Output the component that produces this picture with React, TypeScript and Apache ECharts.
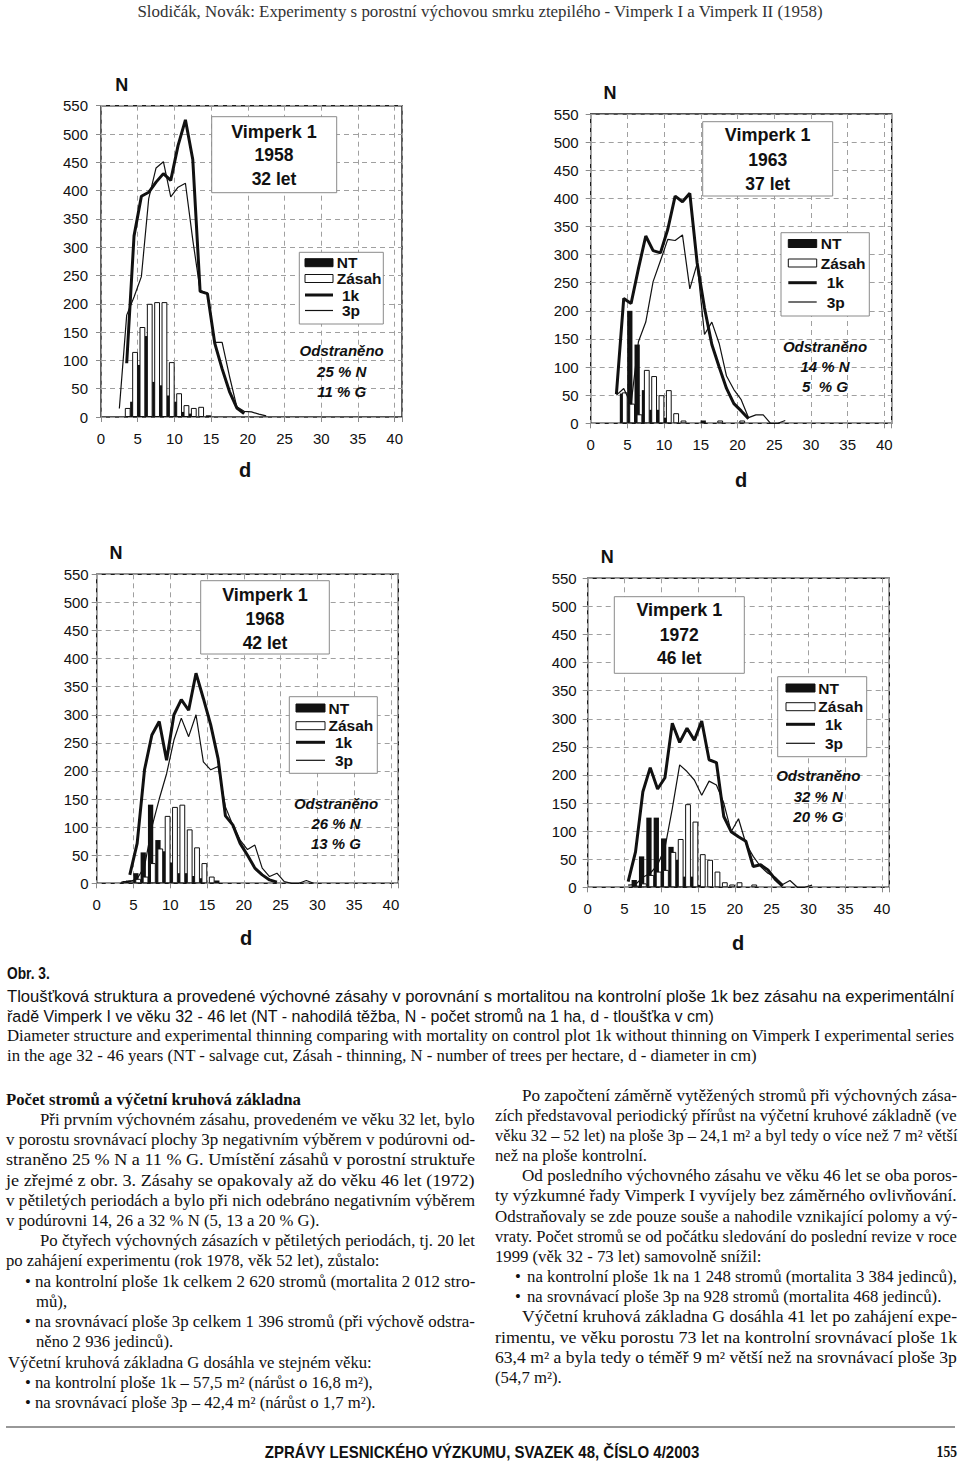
import React, { useEffect, useRef } from "react";
import * as echarts from "echarts";

const SANS = "Liberation Sans";
const SERIF = "Liberation Serif";
const INK = "#111";

// ---------------- DATA (N per ha by 1-cm diameter class d) ----------------
const dTicks = [0, 5, 10, 15, 20, 25, 30, 35, 40];
const nTicks = [0, 50, 100, 150, 200, 250, 300, 350, 400, 450, 500, 550];
const legendNames = ["NT", "Zásah", "1k", "3p"];

// Vimperk 1 – 1958, 32 let
const nt1958From = 4;
const nt1958 = [27, 92, 143, 62, 56, 38, 27, 9, 6];
const zasah1958From = 3;
const zasah1958 = [16, 115, 159, 200, 203, 203, 97, 42, 21, 16, 18, 3];
const k1958From = 3;
const k1958 = [95, 320, 390, 397, 415, 430, 418, 480, 525, 455, 222, 218, 130, 85, 45, 16, 6];
const p1958From = 2;
const p1958 = [15, 180, 212, 248, 386, 440, 451, 389, 406, 413, 313, 224, 218, 132, 132, 72, 18, 10, 9, 5, 2];

// Vimperk 1 – 1963, 37 let
const nt1963From = 4;
const nt1963 = [53, 200, 140, 59, 24, 24, 10, 0, 0, 0, 0, 5];
const zasah1963From = 4;
const zasah1963 = [55, 35, 16, 95, 84, 50, 59, 18, 5, 0, 0, 0, 0, 5, 0, 0, 5];
const k1963From = 3;
const k1963 = [52, 222, 213, 275, 333, 307, 303, 345, 404, 394, 409, 285, 205, 140, 100, 62, 35, 22, 8];
const p1963From = 3;
const p1963 = [50, 62, 34, 145, 180, 252, 289, 327, 325, 335, 239, 284, 158, 180, 142, 84, 60, 42, 10, 15, 15, 0, 0, 5];

// Vimperk 1 – 1968, 42 let
const nt1968From = 4;
const nt1968 = [5, 18, 55, 140, 77, 57, 37, 18, 18, 13, 9, 0, 5];
const zasah1968From = 3;
const zasah1968 = [3, 5, 8, 12, 36, 62, 120, 136, 140, 96, 64, 36, 12];
const k1968From = 4;
const k1968 = [15, 71, 202, 264, 288, 219, 300, 327, 308, 374, 329, 282, 222, 120, 104, 71, 50, 27, 15, 6, 2];
const p1968From = 3;
const p1968 = [3, 3, 8, 30, 100, 150, 195, 255, 294, 261, 300, 216, 202, 208, 136, 104, 77, 60, 68, 27, 12, 18, 3, 0, 0, 5, 0];

// Vimperk 1 – 1972, 46 let
const nt1972From = 6;
const nt1972 = [13, 55, 124, 124, 87, 72, 49, 19, 19, 4];
const zasah1972From = 6;
const zasah1972 = [3, 7, 22, 28, 31, 63, 86, 148, 117, 59, 49, 28, 9, 5, 9, 0, 5];
const k1972From = 5;
const k1972 = [10, 63, 170, 213, 175, 195, 292, 258, 283, 262, 296, 227, 222, 126, 99, 90, 82, 37, 40, 31, 14, 2];
const p1972From = 5;
const p1972 = [4, 5, 18, 25, 40, 70, 140, 218, 206, 191, 164, 189, 182, 150, 99, 122, 78, 55, 37, 25, 18, 5, 12, 0, 0, 4];

const panelTitles = [
  ["Vimperk 1", "1958", "32 let"],
  ["Vimperk 1", "1963", "37 let"],
  ["Vimperk 1", "1968", "42 let"],
  ["Vimperk 1", "1972", "46 let"],
];
const panelRemoved = [
  ["25 % N", "11 % G"],
  ["14 % N", "5  % G"],
  ["26 % N", "13 % G"],
  ["32 % N", "20 % G"],
];

const panelData = [
  { nt: nt1958, ntFrom: nt1958From, za: zasah1958, zaFrom: zasah1958From, k: k1958, kFrom: k1958From, p: p1958, pFrom: p1958From },
  { nt: nt1963, ntFrom: nt1963From, za: zasah1963, zaFrom: zasah1963From, k: k1963, kFrom: k1963From, p: p1963, pFrom: p1963From },
  { nt: nt1968, ntFrom: nt1968From, za: zasah1968, zaFrom: zasah1968From, k: k1968, kFrom: k1968From, p: p1968, pFrom: p1968From },
  { nt: nt1972, ntFrom: nt1972From, za: zasah1972, zaFrom: zasah1972From, k: k1972, kFrom: k1972From, p: p1972, pFrom: p1972From },
];

// ---------------- TEXT ----------------
const headerText = "Slodičák, Novák: Experimenty s porostní výchovou smrku ztepilého - Vimperk I a Vimperk II (1958)";
const captionLabel = "Obr. 3.";
const captionCz = [
  "Tloušťková struktura a provedené výchovné zásahy v porovnání s mortalitou na kontrolní ploše 1k bez zásahu na experimentální",
  "řadě Vimperk I ve věku 32 - 46 let (NT - nahodilá těžba, N - počet stromů na 1 ha, d - tloušťka v cm)",
];
const captionEn = [
  "Diameter structure and experimental thinning comparing with mortality on control plot 1k without thinning on Vimperk I experimental series",
  "in the age 32 - 46 years (NT - salvage cut, Zásah - thinning, N - number of trees per hectare, d - diameter in cm)",
];
// kind: h=heading, i=indented first line, n=normal, b=bullet, s=continuation of bullet, v=slightly indented ; j=justified
const leftCol: [string, string, boolean][] = [
  ["h", "Počet stromů a výčetní kruhová základna", false],
  ["i", "Při prvním výchovném zásahu, provedeném ve věku 32 let, bylo", true],
  ["n", "v porostu srovnávací plochy 3p negativním výběrem v podúrovni od-", true],
  ["n", "straněno 25 % N a 11 % G. Umístění zásahů v porostní struktuře", true],
  ["n", "je zřejmé z obr. 3. Zásahy se opakovaly až do věku 46 let (1972)", true],
  ["n", "v pětiletých periodách a bylo při nich odebráno negativním výběrem", true],
  ["n", "v podúrovni 14, 26 a 32 % N (5, 13 a 20 % G).", false],
  ["i", "Po čtyřech výchovných zásazích v pětiletých periodách, tj. 20 let", true],
  ["n", "po zahájení experimentu (rok 1978, věk 52 let), zůstalo:", false],
  ["b", "na kontrolní ploše 1k celkem 2 620 stromů (mortalita 2 012 stro-", true],
  ["s", "mů),", false],
  ["b", "na srovnávací ploše 3p celkem 1 396 stromů (při výchově odstra-", true],
  ["s", "něno 2 936 jedinců).", false],
  ["v", "Výčetní kruhová základna G dosáhla ve stejném věku:", false],
  ["b", "na kontrolní ploše 1k – 57,5 m² (nárůst o 16,8 m²),", false],
  ["b", "na srovnávací ploše 3p – 42,4 m² (nárůst o 1,7 m²).", false],
];
const rightCol: [string, string, boolean][] = [
  ["i", "Po započtení záměrně vytěžených stromů při výchovných zása-", true],
  ["n", "zích představoval periodický přírůst na výčetní kruhové základně (ve", true],
  ["n", "věku 32 – 52 let) na ploše 3p – 24,1 m² a byl tedy o více než 7 m² větší", true],
  ["n", "než na ploše kontrolní.", false],
  ["i", "Od posledního výchovného zásahu ve věku 46 let se oba poros-", true],
  ["n", "ty výzkumné řady Vimperk I vyvíjely bez záměrného ovlivňování.", true],
  ["n", "Odstraňovaly se zde pouze souše a nahodile vznikající polomy a vý-", true],
  ["n", "vraty. Počet stromů se od počátku sledování do poslední revize v roce", true],
  ["n", "1999 (věk 32 - 73 let) samovolně snížil:", false],
  ["b", "na kontrolní ploše 1k na 1 248 stromů (mortalita 3 384 jedinců),", true],
  ["b", "na srovnávací ploše 3p na 928 stromů (mortalita 468 jedinců).", false],
  ["i", "Výčetní kruhová základna G dosáhla 41 let po zahájení expe-", true],
  ["n", "rimentu, ve věku porostu 73 let na kontrolní srovnávací ploše 1k", true],
  ["n", "63,4 m² a byla tedy o téměř 9 m² větší než na srovnávací ploše 3p", true],
  ["n", "(54,7 m²).", false],
];
const footerText = "ZPRÁVY LESNICKÉHO VÝZKUMU, SVAZEK 48, ČÍSLO 4/2003";
const pageNumber = "155";

// ---------------- LAYOUT ----------------
const panelLayout = [
  { grid: [101, 105.7, 301, 311.3], yMargin: 13, N: [121.7, 85], d: [245, 470],
    tBox: [211.7, 116.7, 125, 76], tX: 274, tY: [131.7, 155, 179],
    lBox: [299.3, 252.3, 84, 71.7], lRows: [262.7, 278.5, 295, 310.5], sw: [305, 333], tx1: 336.7, tx2: 342,
    oX: 341.7, oY: [350, 371.7, 391.7] },
  { grid: [590.7, 114, 301, 309.3], yMargin: 12, N: [610, 93.3], d: [741, 480],
    tBox: [702.7, 121.7, 130, 74.3], tX: 767.7, tY: [135, 160, 184],
    lBox: [781, 232.7, 88.3, 83.3], lRows: [243.5, 263, 282.7, 302], sw: [788.3, 816.7], tx1: 820.7, tx2: 826.7,
    oX: 825, oY: [346, 366, 386] },
  { grid: [96.7, 574.3, 301.6, 309], yMargin: 8, N: [116, 553.3], d: [246, 938],
    tBox: [200.7, 580.7, 128.6, 73.3], tX: 265, tY: [595, 619.3, 642.7],
    lBox: [289.3, 696.7, 88, 76.6], lRows: [708, 725.7, 742.3, 760.3], sw: [296, 325], tx1: 328.5, tx2: 335,
    oX: 336, oY: [803.3, 823.3, 843.3] },
  { grid: [587.7, 578.3, 301.6, 309], yMargin: 11, N: [607.3, 556.7], d: [738, 943],
    tBox: [614.3, 596.7, 130, 76.6], tX: 679.3, tY: [610, 635, 658.3],
    lBox: [777.7, 676.7, 89, 80], lRows: [688, 706.7, 724.3, 743.3], sw: [786, 815], tx1: 818.3, tx2: 825,
    oX: 818.3, oY: [775.7, 796.7, 816.7] },
];

const BODY_SIZE = 16.7;
const BAR_W = 5.3;

let measureCtx: CanvasRenderingContext2D | null = null;
function textWidth(text: string, size: number, family: string, weight = "normal", style = "normal") {
  if (!measureCtx) measureCtx = document.createElement("canvas").getContext("2d");
  if (!measureCtx) return text.length * size * 0.5;
  measureCtx.font = `${style} ${weight} ${size}px "${family}"`;
  return measureCtx.measureText(text).width;
}

type TOpt = {
  x: number; y: number; text: string; size: number; family?: string; weight?: string;
  fstyle?: string; align?: string; fill?: string; sx?: number; z?: number;
};
function txt(o: TOpt) {
  return {
    type: "text",
    x: o.x,
    y: o.y,
    scaleX: o.sx ?? 1,
    z: o.z ?? 60,
    silent: true,
    style: {
      text: o.text,
      fontSize: o.size,
      fontFamily: o.family ?? SANS,
      fontWeight: o.weight ?? "normal",
      fontStyle: o.fstyle ?? "normal",
      fill: o.fill ?? INK,
      textAlign: o.align ?? "left",
      align: o.align ?? "left",
      textVerticalAlign: "middle",
      verticalAlign: "middle",
    },
  };
}
// fit a line to a given pixel width
function fitTxt(o: TOpt & { w: number }) {
  const nat = textWidth(o.text, o.size, o.family ?? SANS, o.weight ?? "normal", o.fstyle ?? "normal");
  return txt({ ...o, sx: o.w / nat });
}

function buildPanel(i: number) {
  const L = panelLayout[i];
  const D = panelData[i];
  const series: any[] = [];
  const barPts = (from: number, vals: number[], off: number) =>
    vals.map((v, j) => [from + j + off, v]).filter((pt) => pt[1] > 0);
  const linePts = (from: number, vals: number[]) => vals.map((v, j) => [from + j + 0.5, v]);
  series.push({
    name: legendNames[0], type: "bar", xAxisIndex: i, yAxisIndex: i, barWidth: BAR_W, barGap: "-100%",
    data: barPts(D.ntFrom, D.nt, 0.36), itemStyle: { color: INK }, silent: true, z: 2,
  });
  series.push({
    name: legendNames[1], type: "bar", xAxisIndex: i, yAxisIndex: i, barWidth: BAR_W + 0.5, barGap: "-100%",
    data: barPts(D.zaFrom, D.za, 0.64), itemStyle: { color: "#fff", borderColor: INK, borderWidth: 1 }, silent: true, z: 2,
  });
  series.push({
    name: legendNames[2], type: "line", xAxisIndex: i, yAxisIndex: i, data: linePts(D.kFrom, D.k),
    symbol: "none", showSymbol: false, lineStyle: { color: INK, width: 3 }, silent: true, z: 4,
  });
  series.push({
    name: legendNames[3], type: "line", xAxisIndex: i, yAxisIndex: i, data: linePts(D.pFrom, D.p),
    symbol: "none", showSymbol: false, lineStyle: { color: INK, width: 1.2 }, silent: true, z: 4,
  });

  const g: any[] = [];
  g.push(txt({ x: L.N[0], y: L.N[1], text: "N", size: 18, weight: "bold", align: "center" }));
  g.push(txt({ x: L.d[0], y: L.d[1], text: "d", size: 20, weight: "bold", align: "center" }));
  g.push({ type: "rect", z: 50, silent: true, shape: { x: L.tBox[0], y: L.tBox[1], width: L.tBox[2], height: L.tBox[3] },
    style: { fill: "#fff", stroke: "#8a8a8a", lineWidth: 1 } });
  panelTitles[i].forEach((t, j) =>
    g.push(txt({ x: L.tX, y: L.tY[j], text: t, size: j === 0 ? 18 : 17.5, weight: "bold", align: "center" })));
  g.push({ type: "rect", z: 50, silent: true, shape: { x: L.lBox[0], y: L.lBox[1], width: L.lBox[2], height: L.lBox[3] },
    style: { fill: "#fff", stroke: "#8a8a8a", lineWidth: 1 } });
  const sw = L.sw;
  g.push({ type: "rect", z: 55, silent: true, shape: { x: sw[0], y: L.lRows[0] - 4, width: sw[1] - sw[0], height: 8 },
    style: { fill: INK, stroke: INK, lineWidth: 1 } });
  g.push({ type: "rect", z: 55, silent: true, shape: { x: sw[0], y: L.lRows[1] - 4, width: sw[1] - sw[0], height: 8 },
    style: { fill: "#fff", stroke: INK, lineWidth: 1 } });
  g.push({ type: "line", z: 55, silent: true, shape: { x1: sw[0], y1: L.lRows[2], x2: sw[1], y2: L.lRows[2] },
    style: { stroke: INK, lineWidth: 3 } });
  g.push({ type: "line", z: 55, silent: true, shape: { x1: sw[0], y1: L.lRows[3], x2: sw[1], y2: L.lRows[3] },
    style: { stroke: INK, lineWidth: 1.2 } });
  g.push(txt({ x: L.tx1, y: L.lRows[0], text: legendNames[0], size: 15.5, weight: "bold" }));
  g.push(txt({ x: L.tx1, y: L.lRows[1], text: legendNames[1], size: 15.5, weight: "bold" }));
  g.push(txt({ x: L.tx2, y: L.lRows[2], text: legendNames[2], size: 15.5, weight: "bold" }));
  g.push(txt({ x: L.tx2, y: L.lRows[3], text: legendNames[3], size: 15.5, weight: "bold" }));
  g.push(txt({ x: L.oX, y: L.oY[0], text: "Odstraněno", size: 15, weight: "bold", fstyle: "italic", align: "center" }));
  g.push(txt({ x: L.oX, y: L.oY[1], text: panelRemoved[i][0], size: 15, weight: "bold", fstyle: "italic", align: "center" }));
  g.push(txt({ x: L.oX, y: L.oY[2], text: panelRemoved[i][1], size: 15, weight: "bold", fstyle: "italic", align: "center" }));

  const grid = {
    left: L.grid[0], top: L.grid[1], width: L.grid[2], height: L.grid[3],
    show: true, borderColor: "#1a1a1a", borderWidth: 1.4, containLabel: false,
  };
  const dash = { color: "#a0a0a0", width: 1, type: [5, 4] };
  const xAxis = {
    type: "value", gridIndex: i, min: dTicks[0], max: 41, interval: 5,
    axisLine: { show: false },
    axisTick: { show: true, length: 5, lineStyle: { color: "#8a8a8a" } },
    splitLine: { show: true, lineStyle: dash },
    axisLabel: {
      margin: 14, fontFamily: SANS, fontSize: 15, color: INK,
      formatter: (v: number) => (dTicks.indexOf(v) >= 0 ? String(v) : ""),
    },
  };
  const yAxis = {
    type: "value", gridIndex: i, min: nTicks[0], max: nTicks[nTicks.length - 1], interval: 50,
    axisLine: { show: false },
    axisTick: { show: true, length: 5, lineStyle: { color: "#8a8a8a" } },
    splitLine: { show: true, lineStyle: dash },
    axisLabel: { margin: L.yMargin, fontFamily: SANS, fontSize: 15, color: INK },
  };
  return { grid, xAxis, yAxis, series, graphics: g };
}

function buildColumn(lines: [string, string, boolean][], pos: any, y0: number, dy: number) {
  const out: any[] = [];
  lines.forEach(([kind, text, just], idx) => {
    const y = y0 + dy * idx;
    const bold = kind === "h";
    let x = pos.left;
    if (kind === "i") x = pos.indent;
    if (kind === "b") x = pos.bulletText;
    if (kind === "s") x = pos.cont;
    if (kind === "v") x = pos.v;
    if (kind === "b") out.push(txt({ x: pos.bullet, y, text: "•", size: BODY_SIZE, family: SERIF }));
    const o: TOpt = { x, y, text, size: BODY_SIZE, family: SERIF, weight: bold ? "bold" : "normal" };
    if (just) out.push(fitTxt({ ...o, w: pos.right - x }));
    else out.push(txt(o));
  });
  return out;
}

function buildOption() {
  const panels = [0, 1, 2, 3].map(buildPanel);
  const graphics: any[] = [];
  panels.forEach((p) => graphics.push(...p.graphics));

  graphics.push(fitTxt({ x: 480, y: 12, text: headerText, size: 16, family: SERIF, align: "center", fill: "#333", w: 686 }));
  graphics.push(txt({ x: 7, y: 973, text: captionLabel, size: 16, weight: "bold", sx: 0.86 }));
  graphics.push(fitTxt({ x: 7, y: 996, text: captionCz[0], size: 17, w: 948 }));
  graphics.push(fitTxt({ x: 7, y: 1016.5, text: captionCz[1], size: 17, w: 708 }));
  const enScale = 948 / textWidth(captionEn[0], 16, SERIF);
  graphics.push(txt({ x: 7, y: 1035.5, text: captionEn[0], size: 16, family: SERIF, sx: enScale }));
  graphics.push(txt({ x: 7, y: 1055.5, text: captionEn[1], size: 16, family: SERIF, sx: enScale }));

  graphics.push(...buildColumn(leftCol, { left: 6, indent: 40, bullet: 25, bulletText: 35, cont: 36, v: 8, right: 475 }, 1099, 20.24));
  graphics.push(...buildColumn(rightCol, { left: 495, indent: 522, bullet: 515, bulletText: 527, cont: 527, v: 522, right: 957 }, 1095.3, 20.16));

  graphics.push({ type: "line", z: 50, silent: true, shape: { x1: 6, y1: 1427, x2: 955, y2: 1427 }, style: { stroke: "#333", lineWidth: 1.2 } });
  graphics.push(fitTxt({ x: 482, y: 1452, text: footerText, size: 16, weight: "bold", align: "center", w: 435 }));
  graphics.push(txt({ x: 957, y: 1452, text: pageNumber, size: 16, family: SERIF, weight: "bold", align: "right", sx: 0.85 }));

  return {
    animation: false,
    backgroundColor: "#fff",
    grid: panels.map((p) => p.grid),
    xAxis: panels.map((p) => p.xAxis),
    yAxis: panels.map((p) => p.yAxis),
    series: panels.flatMap((p) => p.series),
    graphic: { elements: graphics },
  };
}

export default function App() {
  const ref = useRef<HTMLDivElement>(null);
  useEffect(() => {
    if (!ref.current) return;
    const chart = echarts.init(ref.current, null, { renderer: "svg" });
    chart.setOption(buildOption() as any);
    return () => chart.dispose();
  }, []);
  return (
    <div
      ref={ref}
      style={{ position: "absolute", left: 0, top: 0, width: 960, height: 1467, background: "#fff" }}
    />
  );
}
